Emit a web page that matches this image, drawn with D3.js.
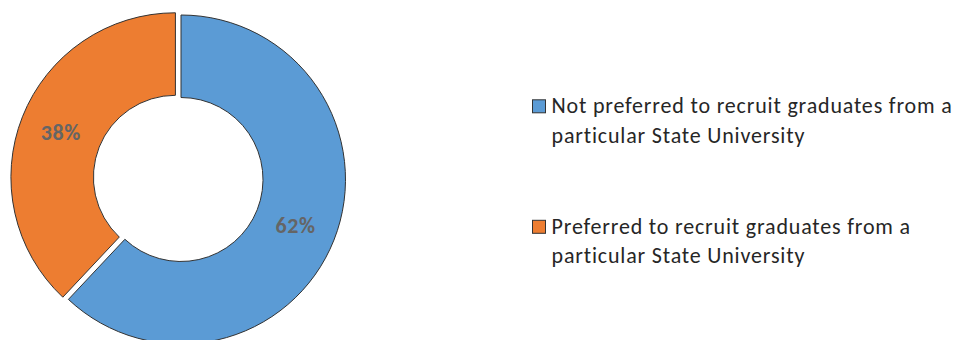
<!DOCTYPE html>
<html><head><meta charset="utf-8">
<script src="https://cdn.jsdelivr.net/npm/d3@7"></script>
<style>
html,body{margin:0;padding:0;background:#fff;}
svg{display:block;}
</style></head>
<body>
<svg id="chart" width="961" height="340"></svg>
<script>
const categories = [
  "Not preferred to recruit graduates from a particular State University",
  "Preferred to recruit graduates from a particular State University"
];
const legendLines = [
  ["Not preferred to recruit graduates from a", "particular State University"],
  ["Preferred to recruit graduates from a", "particular State University"]
];
const values = [62, 38];
const valueLabels = ["62%", "38%"];
const colors = ["#5B9BD5", "#ED7D31"];
const explode = [0, 6];

const svg = d3.select("#chart");
const cx = 181, cy = 179.5, R = 164.5, r = 82;
const fontFam = "Carlito, Lato, 'Open Sans', sans-serif";

const pie = d3.pie().sort(null).value(d => d.value).startAngle(0).endAngle(2 * Math.PI);
const data = categories.map((c, i) => ({cat: c, value: values[i], label: valueLabels[i], color: colors[i], ex: explode[i]}));
const arcs = pie(data);
const arc = d3.arc().innerRadius(r).outerRadius(R);
const labelArc = d3.arc().innerRadius((R + r) / 2).outerRadius((R + r) / 2);

const g = svg.append("g").attr("transform", `translate(${cx},${cy})`);
const slice = g.selectAll("g.slice").data(arcs).join("g")
  .attr("class", "slice")
  .attr("transform", d => {
    const m = (d.startAngle + d.endAngle) / 2;
    return `translate(${Math.sin(m) * d.data.ex},${-Math.cos(m) * d.data.ex})`;
  });
slice.append("path")
  .attr("d", arc)
  .attr("fill", d => d.data.color)
  .attr("stroke", "#333")
  .attr("stroke-width", 1);
slice.append("text")
  .attr("transform", d => `translate(${labelArc.centroid(d)})`)
  .attr("text-anchor", "middle")
  .attr("dy", "0.36em")
  .attr("font-family", fontFam)
  .attr("font-weight", "bold")
  .attr("font-size", 22)
  .attr("letter-spacing", 0.6)
  .attr("fill", "#656565")
  .text(d => d.data.label);

// Legend
const legendY = [113.3, 233.8];
const lineH = 29.5;
const fs = 22;
const lg = svg.append("g");
// measure to match reference width of first line (~401px)
const probe = svg.append("text").attr("font-family", fontFam).attr("font-size", fs).text(legendLines[0][0]);
const w0 = probe.node().getComputedTextLength();
probe.remove();
const ls = Math.max(0, (401 - w0) / legendLines[0][0].length);
categories.forEach((c, i) => {
  const y = legendY[i];
  lg.append("rect")
    .attr("x", 532.5).attr("y", y - 13.5)
    .attr("width", 13).attr("height", 13)
    .attr("fill", colors[i]).attr("stroke", "#333").attr("stroke-width", 1);
  const t = lg.append("text")
    .attr("x", 551.5).attr("y", y)
    .attr("font-family", fontFam)
    .attr("font-size", fs)
    .attr("letter-spacing", ls)
    .attr("fill", "#262626");
  legendLines[i].forEach((ln, k) => {
    t.append("tspan").attr("x", 551.5).attr("y", y + k * lineH).text(ln);
  });
});
</script>
</body></html>
